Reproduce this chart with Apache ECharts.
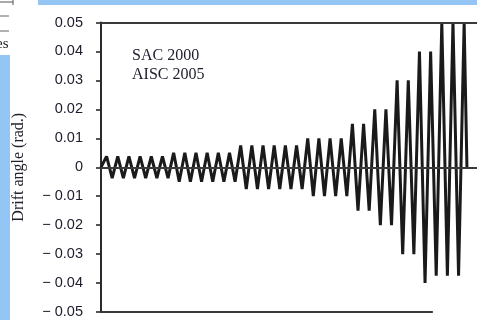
<!DOCTYPE html>
<html>
<head>
<meta charset="utf-8">
<script src="https://cdn.jsdelivr.net/npm/echarts@6/dist/echarts.min.js"></script>
<style>
html,body{margin:0;padding:0;background:#fff;}
#c{width:477px;height:320px;}
</style>
</head>
<body>
<div id="c"></div>
<script>
// Loading protocol (half-cycle step index) and drift angle (rad.)
const step = [0,1,2,3,4,5,6,7,8,9,10,11,12,13,14,15,16,17,18,19,20,21,22,23,24,25,26,27,28,29,30,31,32,33,34,35,36,37,38,39,40,41,42,43,44,45,46,47,48,49,50,51,52,53,54,55,56,57,58,59,60,61,62,63,64,65,65.5];
const driftAngle = [
  0,
  0.00375,-0.00375,0.00375,-0.00375,0.00375,-0.00375,0.00375,-0.00375,0.00375,-0.00375,0.00375,-0.00375,
  0.005,-0.005,0.005,-0.005,0.005,-0.005,0.005,-0.005,0.005,-0.005,0.005,-0.005,
  0.0075,-0.0075,0.0075,-0.0075,0.0075,-0.0075,0.0075,-0.0075,0.0075,-0.0075,0.0075,-0.0075,
  0.01,-0.01,0.01,-0.01,0.01,-0.01,0.01,-0.01,
  0.015,-0.015,0.015,-0.015,
  0.02,-0.02,0.02,-0.02,
  0.03,-0.03,0.03,-0.03,
  0.04,-0.04,0.04,-0.0375,
  0.05,-0.0375,0.05,-0.0375,
  0.05,0
];
const yTicks = [-0.05,-0.04,-0.03,-0.02,-0.01,0,0.01,0.02,0.03,0.04,0.05];
const yTickLabels = ['\u2212 0.05','\u2212 0.04','\u2212 0.03','\u2212 0.02','\u2212 0.01','0','0.01','0.02','0.03','0.04','0.05'];
const xAxisEnd = 59.4;
const xMax = 67.3;
const annotation = ['SAC 2000','AISC 2005'];
const yTitle = 'Drift angle (rad.)';

const chart = echarts.init(document.getElementById('c'), null, {renderer:'canvas'});
const labelFor = v => {
  const i = yTicks.findIndex(t => Math.abs(t - v) < 1e-9);
  return i >= 0 ? yTickLabels[i] : '';
};
chart.setOption({
  animation: false,
  backgroundColor: '#ffffff',
  grid: {left: 101, right: 0, top: 22.5, bottom: 8, containLabel: false},
  xAxis: {
    type: 'value', min: 0, max: xMax,
    axisLine: {show: false}, axisTick: {show: false},
    axisLabel: {show: false}, splitLine: {show: false}
  },
  yAxis: {
    type: 'value', min: -0.05, max: 0.05, interval: 0.01,
    name: yTitle, nameLocation: 'middle', nameRotate: 90, nameGap: 66,
    nameTextStyle: {fontFamily: 'Liberation Serif', fontSize: 16, color: '#22222e', padding: [0,0,8,0]},
    axisLine: {show: true, lineStyle: {color: '#2a2a2a', width: 2}},
    axisTick: {show: true, inside: false, length: 5, lineStyle: {color: '#2a2a2a', width: 1.6}},
    axisLabel: {
      margin: 18, fontFamily: 'Liberation Sans', fontSize: 14.5, color: '#1c1c2c',
      formatter: labelFor
    },
    splitLine: {show: false}
  },
  graphic: [
    {type: 'rect', shape: {x: 38, y: 0, width: 439, height: 5}, style: {fill: '#94c5f5'}},
    {type: 'rect', shape: {x: 0, y: 55, width: 10, height: 265}, style: {fill: '#94c5f5'}},
    {type: 'line', shape: {x1: 0, y1: 2, x2: 13, y2: 2}, style: {stroke: '#555', lineWidth: 1}},
    {type: 'line', shape: {x1: 13, y1: 0, x2: 13, y2: 5}, style: {stroke: '#555', lineWidth: 1}},
    {type: 'line', shape: {x1: 0, y1: 16, x2: 9, y2: 16}, style: {stroke: '#666', lineWidth: 1}},
    {type: 'line', shape: {x1: 0, y1: 31, x2: 9, y2: 31}, style: {stroke: '#666', lineWidth: 1}},
    {type: 'text', x: -4, y: 37, style: {text: 'es', font: '15px "Liberation Serif"', fill: '#222'}},
    {type: 'text', x: 132, y: 46, style: {text: annotation.join('\n'), font: '16px "Liberation Serif"', fill: '#1e1e2e', lineHeight: 19}}
  ],
  series: [{
    type: 'line',
    data: step.map((s, i) => [s, driftAngle[i]]),
    symbol: 'none',
    clip: true,
    lineStyle: {color: '#1a1a1a', width: 3},
    markLine: {
      silent: true, symbol: 'none', label: {show: false},
      lineStyle: {type: 'solid', color: '#3a3a3a', width: 2},
      data: [
        {yAxis: 0},
        {yAxis: 0.05},
        [{coord: [0, -0.05]}, {coord: [xAxisEnd, -0.05]}]
      ]
    }
  }]
});
</script>
</body>
</html>
